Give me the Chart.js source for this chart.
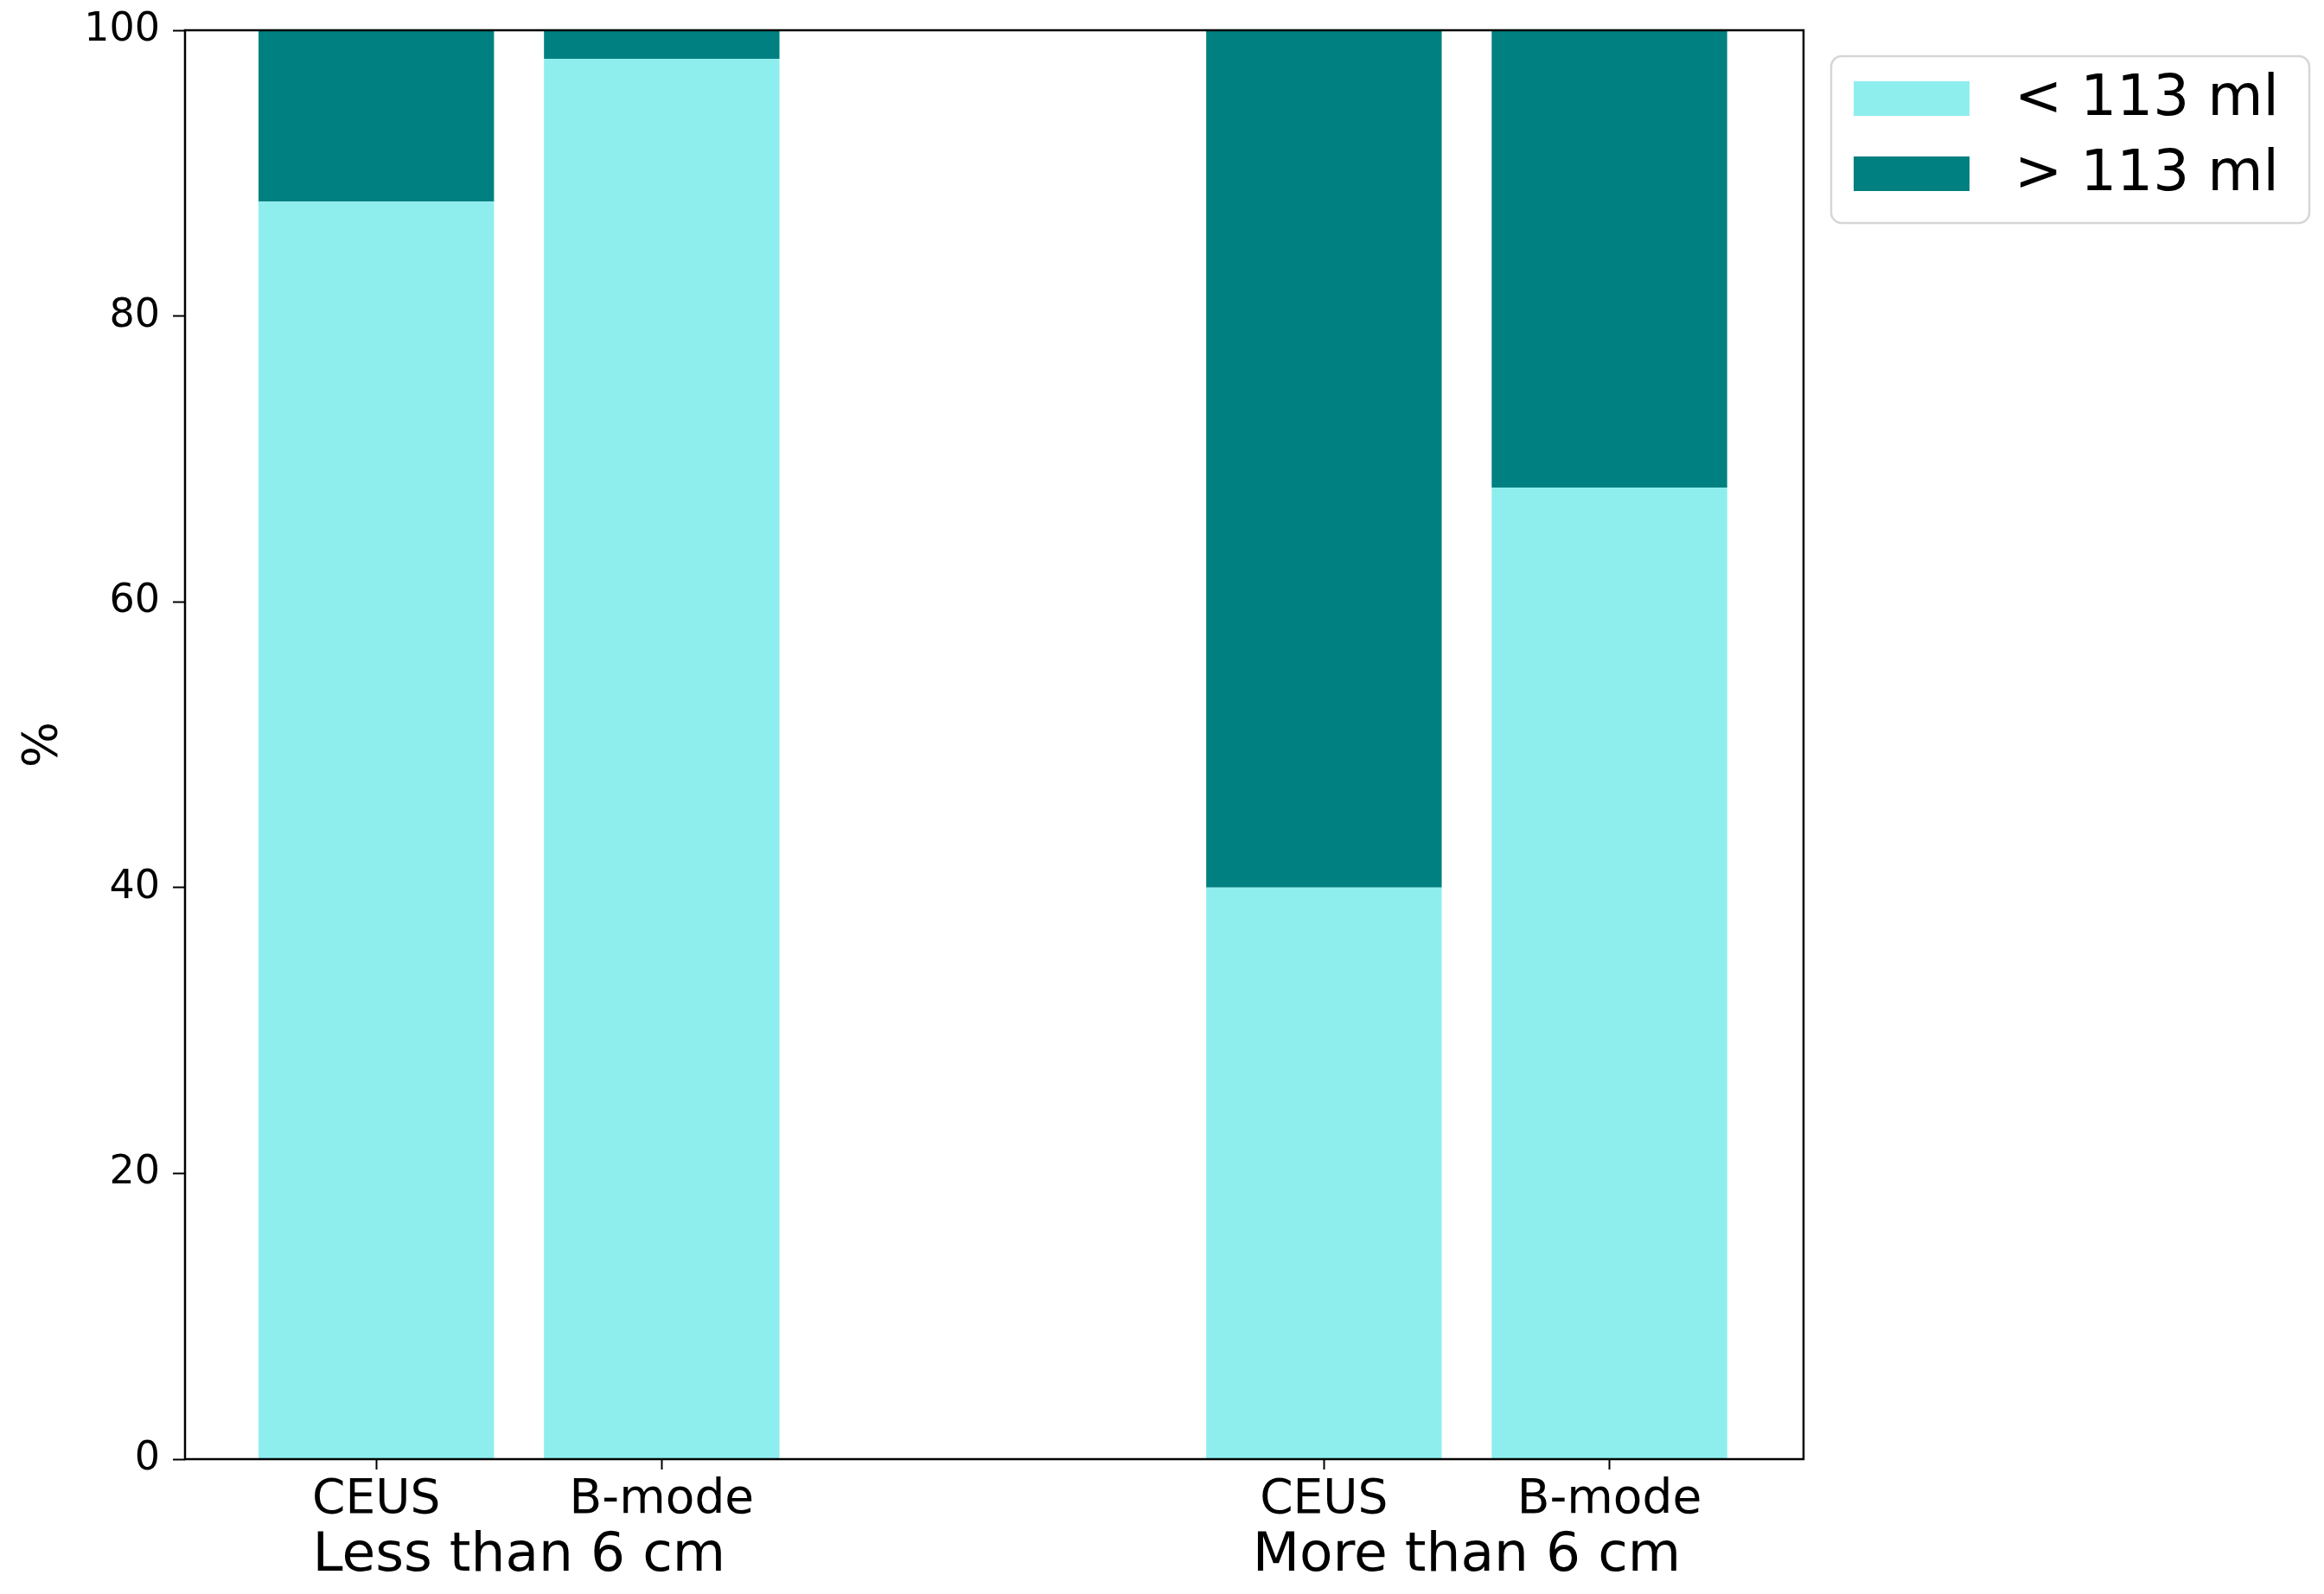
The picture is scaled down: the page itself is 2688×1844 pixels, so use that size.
<!DOCTYPE html>
<html>
<head>
<meta charset="utf-8">
<script src="https://cdn.jsdelivr.net/npm/chart.js@4.4.1/dist/chart.umd.min.js"></script>
<style>
  html, body { margin: 0; padding: 0; background: #fff; }
</style>
</head>
<body>
<canvas id="volumeChart" width="2688" height="1844"></canvas>
<script>
// data
var barLabels = ["CEUS", "B-mode", "CEUS", "B-mode"];
var barPositions = [0, 1, 3.32, 4.32];
var groupLabels = ["Less than 6 cm", "More than 6 cm"];
var belowValues = [88, 98, 40, 68];   // < 113 ml
var aboveValues = [12, 2, 60, 32];    // > 113 ml
var yTicks = [0, 20, 40, 60, 80, 100];

var lightColor = '#8eeeee';
var darkColor = '#008080';

function points(values) {
    return values.map(function (v, i) { return {x: barPositions[i], y: v}; });
}

Chart.defaults.font.family = "'DejaVu Sans', sans-serif";
Chart.defaults.color = '#000';

// box around the axes, group labels under the ticks, and the legend at the right
var extrasPlugin = {
    id: 'extras',
    afterDraw: function (chart) {
        var ctx = chart.ctx;
        var area = chart.chartArea;
        var x = chart.scales.x;
        ctx.save();

        ctx.strokeStyle = '#000';
        ctx.lineWidth = 2.5;
        ctx.strokeRect(area.left, area.top, area.right - area.left, area.bottom - area.top);

        ctx.fillStyle = '#000';
        ctx.font = "63px 'DejaVu Sans'";
        ctx.textAlign = 'center';
        ctx.textBaseline = 'alphabetic';
        groupLabels.forEach(function (label, g) {
            var mid = (barPositions[g * 2] + barPositions[g * 2 + 1]) / 2;
            ctx.fillText(label, x.getPixelForValue(mid), 1817);
        });

        // legend
        var left = area.right + 32, top = 65, w = 553, h = 193, r = 12;
        ctx.beginPath();
        ctx.moveTo(left + r, top);
        ctx.arcTo(left + w, top, left + w, top + h, r);
        ctx.arcTo(left + w, top + h, left, top + h, r);
        ctx.arcTo(left, top + h, left, top, r);
        ctx.arcTo(left, top, left + w, top, r);
        ctx.closePath();
        ctx.fillStyle = 'rgba(255,255,255,0.8)';
        ctx.fill();
        ctx.strokeStyle = '#d6d6d6';
        ctx.lineWidth = 2.5;
        ctx.stroke();

        ctx.font = "66px 'DejaVu Sans'";
        ctx.textAlign = 'left';
        ctx.textBaseline = 'middle';
        chart.data.datasets.forEach(function (ds, i) {
            var cy = 114 + i * 87;
            ctx.fillStyle = ds.backgroundColor;
            ctx.fillRect(left + 26, cy - 20, 134, 40);
            ctx.fillStyle = '#000';
            ctx.fillText(ds.label, left + 212, cy + 2);
        });
        ctx.restore();
    }
};

var ctx = document.getElementById('volumeChart').getContext('2d');
var chart = new Chart(ctx, {
    type: 'bar',
    data: {
        datasets: [{
            label: '< 113 ml',
            data: points(belowValues),
            backgroundColor: lightColor,
            barPercentage: 0.825,
            categoryPercentage: 1
        }, {
            label: '> 113 ml',
            data: points(aboveValues),
            backgroundColor: darkColor,
            barPercentage: 0.825,
            categoryPercentage: 1
        }]
    },
    options: {
        responsive: false,
        devicePixelRatio: 1,
        animation: false,
        layout: {
            padding: {top: 35, right: 602, left: 0, bottom: 0}
        },
        plugins: {
            legend: {display: false},
            tooltip: {enabled: false}
        },
        scales: {
            x: {
                type: 'linear',
                stacked: true,
                offset: false,
                min: -0.67,
                max: 5.0,
                afterBuildTicks: function (scale) {
                    scale.ticks = barPositions.map(function (v) { return {value: v}; });
                },
                afterFit: function (scale) { scale.height = 156; },
                ticks: {
                    autoSkip: false,
                    maxRotation: 0,
                    padding: 3,
                    font: {size: 55},
                    callback: function (value, index) { return barLabels[index]; }
                },
                grid: {offset: false, drawOnChartArea: false, drawTicks: true, tickLength: 12, tickColor: '#000', tickWidth: 2},
                border: {display: false}
            },
            y: {
                stacked: true,
                min: 0,
                max: 100,
                afterBuildTicks: function (scale) {
                    scale.ticks = yTicks.map(function (v) { return {value: v}; });
                },
                afterFit: function (scale) { scale.width = 214; },
                ticks: {
                    padding: 15,
                    font: {size: 46, lineHeight: 0.8}
                },
                title: {
                    display: true,
                    text: '%',
                    font: {size: 56},
                    padding: {top: 17, bottom: 0}
                },
                grid: {drawOnChartArea: false, drawTicks: true, tickLength: 14, tickColor: '#000', tickWidth: 2},
                border: {display: false}
            }
        }
    },
    plugins: [extrasPlugin]
});
</script>
</body>
</html>
